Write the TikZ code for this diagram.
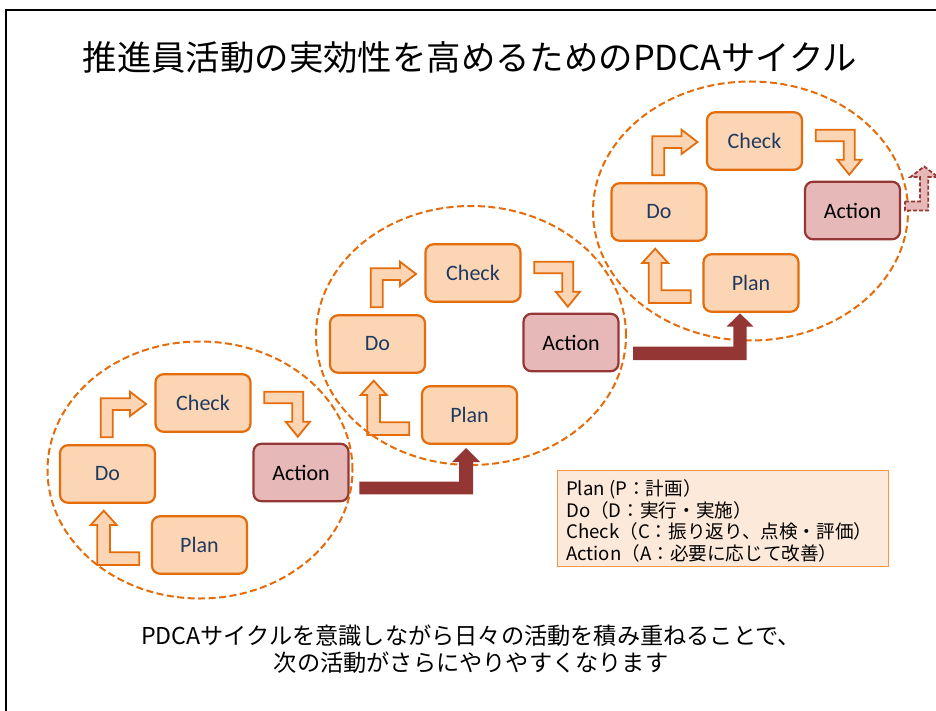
\documentclass[tikz,border=0pt]{standalone}
\usepackage{fontspec}
\setmainfont{Carlito}
\newfontfamily\jp{Noto Sans CJK JP}
\definecolor{orgline}{HTML}{E46C0A}
\definecolor{peach}{HTML}{FCD5B5}
\definecolor{redline}{HTML}{953735}
\definecolor{pinkfill}{HTML}{E6B9B8}
\definecolor{navy}{HTML}{1F3A60}
\definecolor{darkred}{HTML}{943634}
\definecolor{legfill}{HTML}{FDE9D9}
\definecolor{legline}{HTML}{F79646}
\begin{document}
\begin{tikzpicture}[x=1pt,y=-1pt,
  pbox/.style={draw=orgline, fill=peach, line width=2.2pt, rounded corners=8pt,
    minimum width=95pt, minimum height=57.5pt, inner sep=0pt, text=navy,
    font=\fontsize{22}{26}\selectfont},
  abox/.style={pbox, draw=redline, fill=pinkfill, text=black},
  bentarrow/.style={draw=orgline, fill=peach, line width=1.8pt, line join=miter},
  bigarrow/.style={fill=darkred},
  ring/.style={draw=orgline, dash pattern=on 7pt off 3.5pt, line width=2pt},
  legendbox/.style={draw=legline, fill=legfill, line width=1.5pt, minimum width=331pt,
    minimum height=96pt, inner sep=0pt},
  jptext/.style={font=\jp\fontsize{18.6}{21.7}\selectfont, align=left, inner sep=0pt}
]
\useasboundingbox (0,0) rectangle (936,711);
\fill[white] (0,0) rectangle (936,711);
% frame
\draw[line width=2pt] (6,711) -- (6,10) -- (936,10);

% title
\node[font=\jp\fontsize{34.4}{40}\selectfont, inner sep=0pt] (title) at (470,57)
  {推進員活動の実効性を高めるためのPDCAサイクル};

% cycles
\foreach \i/\sx/\sy in {1/0/0, 2/270/-130, 3/551.5/-262}{
  \begin{scope}[shift={(\sx,\sy)}]
    \node[pbox] (do\i) at (107.5,474) {Do};
    \node[pbox] (check\i) at (203,403) {Check};
    \node[abox] (act\i) at (301,472.5) {Action};
    \node[pbox] (plan\i) at (199.5,545) {Plan};
    % Do -> Check
    \draw[bentarrow] (100.7,437.3) -- (100.7,398.3) -- (130,398.3) -- (130,391.7)
      -- (146,404) -- (130,416) -- (130,410) -- (112.7,410) -- (112.7,437.3) -- cycle;
    % Check -> Action
    \draw[bentarrow] (264.3,391.7) -- (303.3,391.7) -- (303.3,421.7) -- (310,421.7)
      -- (297.8,436.7) -- (285.7,421.7) -- (292.3,421.7) -- (292.3,403.3)
      -- (264.3,403.3) -- cycle;
    % Plan -> Do
    \draw[bentarrow] (139.3,565) -- (97.3,565) -- (97.3,525) -- (90.7,525)
      -- (103.7,510.7) -- (116.7,525) -- (110,525) -- (110,552.3) -- (139.3,552.3) -- cycle;
  \end{scope}
}

% dashed rings
\draw[ring] (200,470) ellipse [x radius=152.5pt, y radius=128.5pt];
\draw[ring] (471,335.5) ellipse [x radius=155pt, y radius=129.5pt];
\draw[ring] (750.5,211) ellipse [x radius=157.5pt, y radius=129.5pt];

% big arrows Action -> next Plan
\fill[bigarrow] (359.3,481.7) -- (459,481.7) -- (459,462) -- (452,462) -- (466,448)
  -- (480,462) -- (473,462) -- (473,494.3) -- (359.3,494.3) -- cycle;
\fill[bigarrow] (633,346.7) -- (733.3,346.7) -- (733.3,326.7) -- (726.5,326.7)
  -- (740,313.3) -- (753.5,326.7) -- (746.7,326.7) -- (746.7,360) -- (633,360) -- cycle;
% partial next arrow
\draw[fill=pinkfill, draw=redline, line width=1.8pt, dash pattern=on 4pt off 2pt]
  (905,201.5) -- (920,201.5) -- (920,177) -- (910.5,177) -- (924.2,166.5)
  -- (938,177) -- (928.3,177) -- (928.3,210.5) -- (905,210.5) -- cycle;

% legend
\node[legendbox] (legend) at (723,518.5) {};
\node[jptext, anchor=west] (legtext) at (566,520.8)
  {Plan (P：計画）\\Do（D：実行・実施）\\Check（C：振り返り、点検・評価）\\Action（A：必要に応じて改善）};

% bottom message
\node[font=\jp\fontsize{23.2}{27}\selectfont, align=center, inner sep=0pt] (msg) at (471,649)
  {PDCAサイクルを意識しながら日々の活動を積み重ねることで、\\次の活動がさらにやりやすくなります};
\end{tikzpicture}
\end{document}
